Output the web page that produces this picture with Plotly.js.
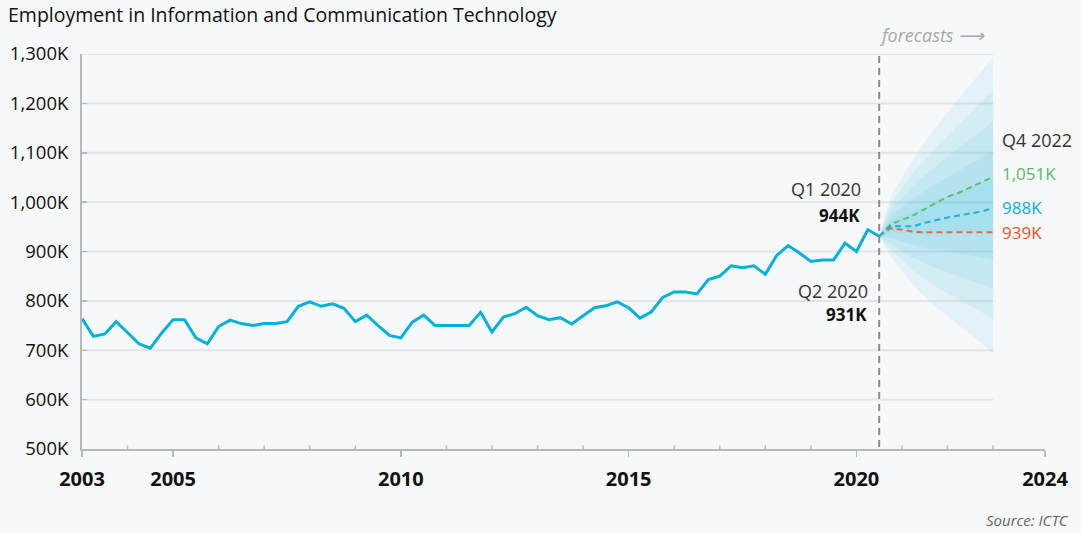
<!DOCTYPE html>
<html><head><meta charset="utf-8">
<script src="https://cdn.plot.ly/plotly-3.0.1.min.js"></script>
<style>html,body{margin:0;padding:0;background:#f7f8fa;} #chart{width:1081px;height:533px;}</style>
</head><body><div id="chart"></div>
<script>
// ---------- data ----------
const titleText = 'Employment in Information and Communication Technology';
const sourceText = 'Source: ICTC';
const firstQuarterEnd = 2003.0;   // quarter-end position of the first observation
const quarterStep = 0.25;
// quarterly employment, thousands
const histValues = [764,728,733,758,736,713,704,735,762,762,
                    725,713,748,761,754,750,754,754,758,789,
                    798,789,794,785,758,771,750,730,725,757,
                    771,750,750,750,750,777,737,767,774,787,
                    770,762,766,753,770,786,790,798,786,765,
                    778,807,818,818,814,843,850,871,867,871,
                    854,892,912,897,880,883,883,917,900,944,931];
const forecastStart = 2020.5;     // Q2 2020
// forecasts Q2 2020 .. Q4 2022, thousands
const forecastHigh = [931,955,964,973,986,999,1011,1019,1030,1040,1051];
const forecastMid  = [931,952,951,951,958,964,969,973,977,981,988];
const forecastLow  = [931,947,944,940,939,939,939,939,939,939,939];
// prediction fan: centre and half-widths of nested bands, thousands
const fanCenter = [931,950,955,960,965,970,975,980,985,990,994];
const fanBand1 = [0,60,95,128,157,183,207,230,252,276,300];
const fanBand2 = [0,46,73,99,121,141,160,178,195,213,232];
const fanBand3 = [0,34,54,73,89,104,117,130,143,156,170];
const fanBand4 = [0,22,35,47,58,67,76,84,92,101,110];
const fanBand5 = [0,11,17,23,29,34,38,42,46,50,55];
const yTicks = [500,600,700,800,900,1000,1100,1200,1300];
const xTickYears = [2003,2005,2010,2015,2020];
const xMinorYears = [2004,2006,2007,2008,2009,2011,2012,2013,2014,2016,2017,2018,2019,2021,2022,2023];
const axisEndLabel = '2024';
const labelQ1 = 'Q1 2020', labelQ2 = 'Q2 2020', labelQ4 = 'Q4 2022';
const forecastLabel = 'forecasts \u27F6';

// ---------- build ----------
const FONT = 'Open Sans, Noto Sans, sans-serif';
const histX = histValues.map((v, i) => firstQuarterEnd + i * quarterStep);
const fanX = fanCenter.map((v, i) => forecastStart + i * quarterStep);
const fanEnd = fanX[fanX.length - 1];
const xEnd = 2024.14;
const fmtK = v => v.toLocaleString('en-US') + 'K';

const traces = [];
const bandColor = 'rgba(0,178,212,0.075)';
[fanBand1, fanBand2, fanBand3, fanBand4, fanBand5].forEach(hw => {
  const up = fanCenter.map((c, i) => c + hw[i]);
  const lo = fanCenter.map((c, i) => c - hw[i]);
  traces.push({
    x: fanX.concat(fanX.slice().reverse()),
    y: up.concat(lo.slice().reverse()),
    type: 'scatter', mode: 'lines', fill: 'toself',
    fillcolor: bandColor, line: {width: 0}, hoverinfo: 'skip', showlegend: false
  });
});
const dashSpec = '6px,4px';
traces.push({x: fanX, y: forecastLow, type: 'scatter', mode: 'lines',
  line: {color: '#e8693f', width: 2, dash: dashSpec}, showlegend: false});
traces.push({x: fanX, y: forecastHigh, type: 'scatter', mode: 'lines',
  line: {color: '#62bd6e', width: 2, dash: dashSpec}, showlegend: false});
traces.push({x: fanX, y: forecastMid, type: 'scatter', mode: 'lines',
  line: {color: '#1fb0d8', width: 2, dash: dashSpec}, showlegend: false});
traces.push({x: histX, y: histValues, type: 'scatter', mode: 'lines',
  line: {color: '#00b2d6', width: 3}, showlegend: false});

const shapes = yTicks.slice(1).map(t => ({
  type: 'line', xref: 'x', yref: 'y', x0: firstQuarterEnd, x1: fanEnd, y0: t, y1: t,
  line: {color: '#e3e4e6', width: 2}, layer: 'below'
}));
shapes.push({type: 'line', xref: 'x', yref: 'paper', x0: forecastStart, x1: forecastStart,
  y0: 0.005, y1: 1.007, line: {color: '#8c8c8c', width: 2, dash: '7px,5px'}, layer: 'above'});
// minor ticks on x axis (inside)
xMinorYears.forEach(yr => shapes.push({type: 'line', xref: 'x', yref: 'paper', x0: yr, x1: yr,
  y0: 0, y1: 0.009, line: {color: '#b8b8b8', width: 1.5}}));

const iQ1 = histValues.length - 2, iQ2 = histValues.length - 1, last = fanX.length - 1;
const annotations = [
  {x: forecastStart, y: 1.049, xref: 'x', yref: 'paper', text: forecastLabel, showarrow: false,
   xanchor: 'left', yanchor: 'middle', xshift: -2, font: {family: FONT, size: 18, color: '#a8a8a8', style: 'italic'}},
  {x: histX[iQ1], y: histValues[iQ1], text: labelQ1, showarrow: false, xanchor: 'right', yanchor: 'middle',
   xshift: -5, yshift: 41, font: {family: FONT, size: 18, color: '#333'}},
  {x: histX[iQ1], y: histValues[iQ1], text: '<b>' + fmtK(histValues[iQ1]) + '</b>', showarrow: false,
   xanchor: 'right', yanchor: 'middle', xshift: -6, yshift: 14, font: {family: FONT, size: 17, color: '#111'}},
  {x: histX[iQ2], y: histValues[iQ2], text: labelQ2, showarrow: false, xanchor: 'right', yanchor: 'middle',
   xshift: -9, yshift: -55, font: {family: FONT, size: 18, color: '#333'}},
  {x: histX[iQ2], y: histValues[iQ2], text: '<b>' + fmtK(histValues[iQ2]) + '</b>', showarrow: false,
   xanchor: 'right', yanchor: 'middle', xshift: -10, yshift: -78, font: {family: FONT, size: 17, color: '#111'}},
  {x: fanEnd, y: forecastHigh[last], text: labelQ4, showarrow: false, xanchor: 'left', yanchor: 'middle',
   xshift: 7, yshift: 37, font: {family: FONT, size: 18, color: '#333'}},
  {x: fanEnd, y: forecastHigh[last], text: fmtK(forecastHigh[last]), showarrow: false, xanchor: 'left',
   yanchor: 'middle', xshift: 7, yshift: 3, font: {family: FONT, size: 17, color: '#5cb868'}},
  {x: fanEnd, y: forecastMid[last], text: fmtK(forecastMid[last]), showarrow: false, xanchor: 'left',
   yanchor: 'middle', xshift: 7, yshift: 1, font: {family: FONT, size: 17, color: '#12acd6'}},
  {x: fanEnd, y: forecastLow[last], text: fmtK(forecastLow[last]), showarrow: false, xanchor: 'left',
   yanchor: 'middle', xshift: 7, yshift: 0, font: {family: FONT, size: 17, color: '#e0582a'}},
  {x: 1.027, y: -0.179, xref: 'paper', yref: 'paper', text: '<i>' + sourceText + '</i>', showarrow: false,
   xanchor: 'right', yanchor: 'middle', font: {family: FONT, size: 15, color: '#666'}}
];

const layout = {
  width: 1081, height: 533,
  margin: {l: 82, r: 36, t: 54, b: 84, pad: 0},
  paper_bgcolor: '#f7f8fa', plot_bgcolor: '#f7f8fa',
  title: {text: titleText, x: 8 / 1081, xref: 'container', xanchor: 'left',
          y: 1 - 15 / 533, yref: 'container', yanchor: 'middle',
          font: {family: FONT, size: 19.5, color: '#111'}},
  xaxis: {
    type: 'linear', range: [firstQuarterEnd, xEnd], showgrid: false, zeroline: false,
    showline: true, linecolor: '#b8b8b8', linewidth: 2,
    tickmode: 'array', tickvals: xTickYears.concat([xEnd]), ticktext: xTickYears.map(String).concat([axisEndLabel]),
    ticks: 'outside', ticklen: 6, tickwidth: 1.5, tickcolor: '#b8b8b8',
    tickfont: {family: FONT, size: 20, color: '#111', weight: 700}, ticklabelstandoff: 5
  },
  yaxis: {
    range: [500, 1300], showgrid: false, zeroline: false,
    showline: true, linecolor: '#b8b8b8', linewidth: 2,
    tickmode: 'array', tickvals: yTicks, ticktext: yTicks.map(fmtK),
    ticks: 'inside', ticklen: 5, tickwidth: 1.5, tickcolor: '#b8b8b8',
    tickfont: {family: FONT, size: 18.5, color: '#111'}, ticklabelstandoff: 8
  },
  shapes: shapes, annotations: annotations, showlegend: false, hovermode: false
};

Plotly.newPlot('chart', traces, layout, {staticPlot: true, displayModeBar: false});
</script></body></html>
